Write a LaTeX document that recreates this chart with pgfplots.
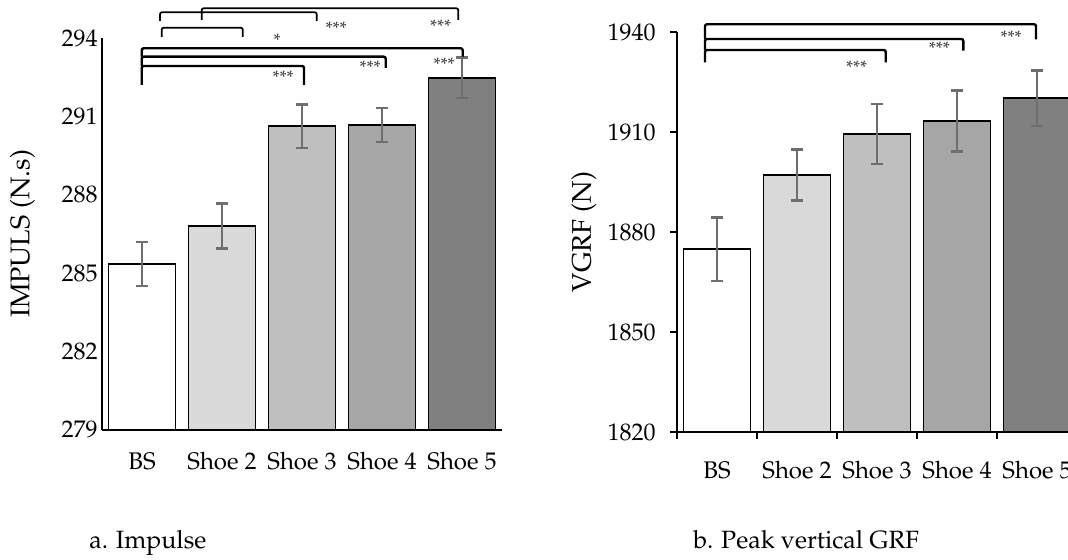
\documentclass[border=0pt]{standalone}
\usepackage[T1]{fontenc}
\usepackage{mathpazo}
\usepackage{pgfplots}
\pgfplotsset{compat=1.18}
\definecolor{c1}{RGB}{255,255,255}
\definecolor{c2}{RGB}{217,217,217}
\definecolor{c3}{RGB}{191,191,191}
\definecolor{c4}{RGB}{166,166,166}
\definecolor{c5}{RGB}{128,128,128}
\definecolor{errgray}{RGB}{110,110,110}
\definecolor{stargray}{RGB}{50,50,50}
\pgfplotsset{
  mybar/.style={draw=black, line width=0.9pt, bar shift=0pt,
    error bars/.cd, y dir=both, y explicit,
    error bar style={draw=errgray, line width=1.2pt},
    error mark options={rotate=90, mark size=2.9pt, draw=errgray, line width=1.2pt}},
  base/.style={
    scale only axis, anchor=south west,
    xmin=-0.5, xmax=4.5,
    ybar, bar width=33.5pt,
    axis lines*=left,
    axis line style={line width=0.9pt, black},
    xtick={-0.5,0.5,...,4.5},
    x tick label as interval,
    xticklabels={BS,Shoe 2,Shoe 3,Shoe 4,Shoe 5},
    tick label style={font=\fontsize{12}{14}\selectfont},
    /pgf/number format/set thousands separator={},
    xticklabel style={inner sep=0pt, anchor=north, yshift=-11pt},
  },
}
\begin{document}
\begin{tikzpicture}
\begin{axis}[base,
  at={(51pt,65pt)}, width=200pt, height=196pt,
  ymin=279, ymax=294, ytick={279,282,...,294},
  major tick length=0pt,
  yticklabel style={inner sep=0pt, anchor=east, xshift=-2pt},
  ylabel={IMPULS (N.s)},
  every axis y label/.style={at={(axis description cs:-0.199,0.5)}, rotate=90, anchor=center, font=\fontsize{13.5}{15}\selectfont},
]
\addplot[fill=c1, mybar] coordinates {(0,285.35) +- (0,0.85)};
\addplot[fill=c2, mybar] coordinates {(1,286.8) +- (0,0.86)};
\addplot[fill=c3, mybar] coordinates {(2,290.63) +- (0,0.83)};
\addplot[fill=c4, mybar] coordinates {(3,290.67) +- (0,0.66)};
\addplot[fill=c5, mybar] coordinates {(4,292.48) +- (0,0.77)};
\end{axis}
\begin{axis}[base,
  at={(338.5pt,64pt)}, width=200pt, height=200pt,
  ymin=1820, ymax=1940, ytick={1820,1850,...,1940},
  tick align=outside, major tick length=3.5pt,
  tick style={black, line width=0.9pt},
  yticklabel style={inner sep=0pt, anchor=east, xshift=-7pt},
  ylabel={VGRF (N)},
  every axis y label/.style={at={(axis description cs:-0.2325,0.5)}, rotate=90, anchor=center, font=\fontsize{13.5}{15}\selectfont},
]
\addplot[fill=c1, mybar] coordinates {(0,1874.8) +- (0,9.5)};
\addplot[fill=c2, mybar] coordinates {(1,1897.1) +- (0,7.6)};
\addplot[fill=c3, mybar] coordinates {(2,1909.4) +- (0,9.0)};
\addplot[fill=c4, mybar] coordinates {(3,1913.3) +- (0,9.1)};
\addplot[fill=c5, mybar] coordinates {(4,1920.1) +- (0,8.3)};
\end{axis}
\begin{scope}[x=0.5pt,y=-0.5pt,shift={(0pt,280pt)}]
  \tikzset{br/.style={draw=black, line width=1.2pt, rounded corners=1pt},
           brt/.style={draw=black, line width=0.85pt, rounded corners=1pt},
           st/.style={text=stargray, font=\fontsize{9}{10}\selectfont, inner sep=0pt}}
  % left chart brackets
  \draw[br] (141.7,85) -- (141.7,66) -- (304,66) -- (304,85);
  \draw[br] (141.7,66) -- (141.7,56.7) -- (385.7,56.7) -- (385.7,68);
  \draw[br] (141.7,56.7) -- (141.7,48.3) -- (462.7,48.3) -- (462.7,56.7);
  \draw[brt] (161.7,37) -- (161.7,27.7) -- (242.7,27.7) -- (242.7,37);
  \draw[brt] (160,21) -- (160,12.3) -- (316.7,12.3) -- (316.7,21);
  \draw[brt] (201.7,20) -- (201.7,8.3) -- (458.3,8.3) -- (458.3,20);
  \node[st] at (283,77) {***};
  \node[st] at (370,67.5) {***};
  \node[st] at (444,64) {***};
  \node[st] at (277,40) {*};
  \node[st] at (336,28) {***};
  \node[st] at (440.7,26) {***};
  % right chart brackets
  \draw[br] (705,62.3) -- (705,50) -- (885.7,50) -- (885.7,62.3);
  \draw[br] (705,50) -- (705,39) -- (963.3,39) -- (963.3,50.7);
  \draw[br] (705,39) -- (705,24.3) -- (1036,24.3) -- (1036,39.3);
  \node[st] at (856.7,67) {***};
  \node[st] at (939.3,48.5) {***};
  \node[st] at (1011,37) {***};
  % captions
  \node[anchor=base west, inner sep=0pt, font=\fontsize{12.5}{14}\selectfont] at (89,549) {a. Impulse};
  \node[anchor=base west, inner sep=0pt, font=\fontsize{12.5}{14}\selectfont] at (693,549) {b. Peak vertical GRF};
\end{scope}
\pgfresetboundingbox
\useasboundingbox (0,0) rectangle (534pt,280pt);
\end{tikzpicture}
\end{document}
